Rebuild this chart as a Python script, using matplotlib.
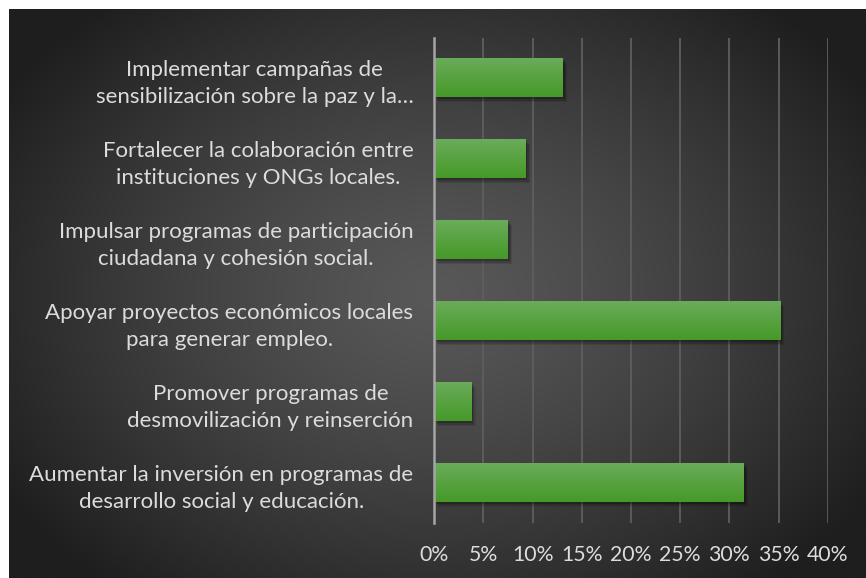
import numpy as np
import matplotlib
matplotlib.use("Agg")
import matplotlib.pyplot as plt
from matplotlib.patches import Rectangle
from matplotlib import transforms

# datos (de abajo hacia arriba, como en el gráfico de barras de Excel)
categorias = [
    "Aumentar la inversión en programas de\ndesarrollo social y educación.",
    "Promover programas de\ndesmovilización y reinserción",
    "Apoyar proyectos económicos locales\npara generar empleo.",
    "Impulsar programas de participación\nciudadana y cohesión social.",
    "Fortalecer la colaboración entre\ninstituciones y ONGs locales.",
    "Implementar campañas de\nsensibilización sobre la paz y la…",
]
valores = [31.5, 3.8, 35.2, 7.5, 9.3, 13.1]
ticks_x = [0, 5, 10, 15, 20, 25, 30, 35, 40]
etiquetas_x = ["0%", "5%", "10%", "15%", "20%", "25%", "30%", "35%", "40%"]

W, H = 866, 578
plt.rcParams['font.family'] = ['Lato', 'DejaVu Sans']

fig = plt.figure(figsize=(W / 100, H / 100), dpi=100)
fig.patch.set_facecolor("white")

# === fondo con degradado radial ===
bg = fig.add_axes([9 / W, 0, 1 - 9 / W, 1 - 9 / H])
bg.axis("off")
yy, xx = np.mgrid[0:1:300j, 0:1:450j]
d = np.sqrt(((xx - 0.5) / 0.55) ** 2 + ((yy - 0.5) / 0.62) ** 2)
val = np.clip(88 - 52 * d ** 1.3, 30, 88) / 255.0
bg.imshow(np.dstack([val, val, val]), extent=[0, 1, 0, 1], aspect="auto")
bg.set_xlim(0, 1)
bg.set_ylim(0, 1)

# === gráfico ===
ax = fig.add_axes([434.3 / W, 1 - 523 / H, (827.7 - 434.3) / W, (523 - 37.5) / H])
ax.set_facecolor("none")

alto = 0.48
grad = np.linspace(0, 1, 64).reshape(-1, 1)
top_c = np.array([106, 172, 90]) / 255.0
bot_c = np.array([70, 153, 40]) / 255.0
img = (top_c[None, None, :] * (1 - grad[:, :, None]) + bot_c[None, None, :] * grad[:, :, None])

for i, v in enumerate(valores):
    y0 = i - alto / 2
    # sombra
    for k, a in [(5, 0.10), (3.5, 0.15), (2, 0.2)]:
        off = transforms.offset_copy(ax.transData, fig=fig, x=k * 0.8, y=-k, units="dots")
        ax.add_patch(Rectangle((0, y0), v, alto, facecolor="black", alpha=a,
                               edgecolor="none", transform=off, zorder=1.5))
    ax.imshow(img, extent=[0, v, y0, y0 + alto], aspect="auto", zorder=2,
              interpolation="bilinear")

ax.set_xlim(0, 40)
ax.set_ylim(-0.5, 5.5)
ax.set_xticks(ticks_x)
ax.set_xticklabels(etiquetas_x)
ax.set_yticks(range(len(categorias)))
ax.set_yticklabels(categorias, multialignment="center", linespacing=1.45)
ax.grid(axis="x", color="#5e5e5e", linewidth=1.3, zorder=0)
ax.set_axisbelow(True)
for s in ["top", "right", "bottom"]:
    ax.spines[s].set_visible(False)
ax.spines["left"].set_color("#a6a6a6")
ax.spines["left"].set_linewidth(1.8)
ax.spines["left"].set_zorder(3)
ax.tick_params(axis="y", length=0, pad=15, labelsize=16, labelcolor="#dcdcdc")
ax.tick_params(axis="x", length=0, pad=16, labelsize=15.3, labelcolor="#dcdcdc")

fig.savefig("out.png", dpi=100, facecolor=fig.get_facecolor())
